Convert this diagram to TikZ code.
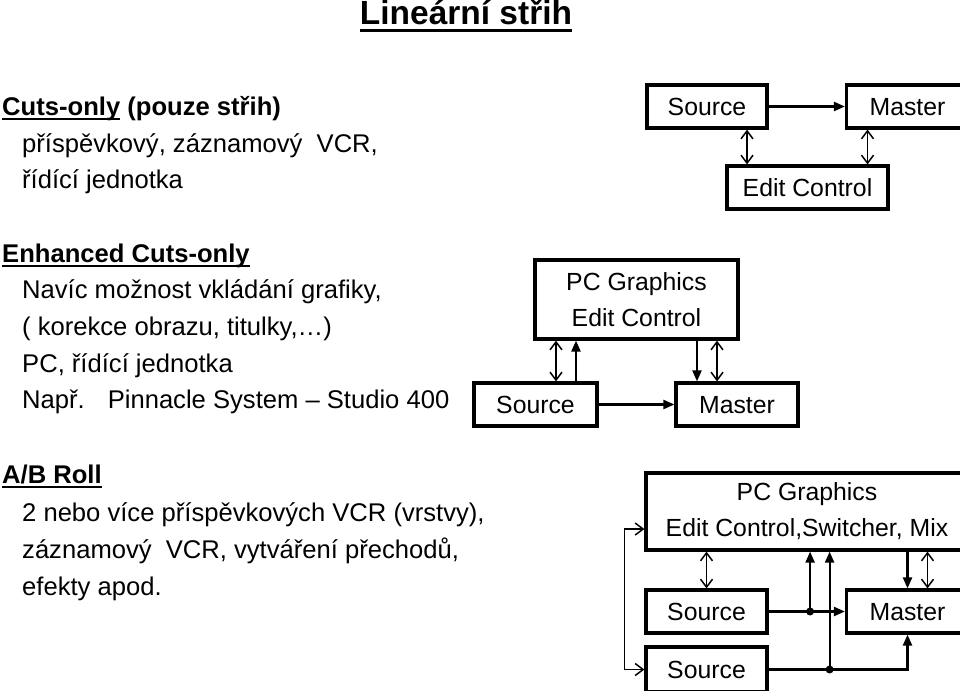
\documentclass[tikz,border=0pt]{standalone}
\usepackage{fontspec}
\setmainfont{Liberation Sans}
\usetikzlibrary{arrows.meta}

\newcommand{\ulin}[1]{\setbox0\hbox{#1}\rlap{\rule[-5pt]{\wd0}{2.4pt}}\box0\relax}

\begin{document}
\begin{tikzpicture}[x=1pt, y=-1pt,
    txt/.style={anchor=base west, inner sep=0pt, font=\fontsize{25.6}{29}\selectfont},
    hd/.style={txt, font=\fontsize{25.6}{29}\selectfont\bfseries},
    box/.style={draw, line width=3.2pt, inner sep=0pt, minimum height=43pt, align=center, font=\fontsize{24.8}{36}\selectfont},
    vcr/.style={box, text height=18pt, text depth=0pt},
    fil/.style={-{Triangle[length=11pt,width=9pt]}, line width=2.2pt},
    dbl/.style={{Straight Barb[length=8pt,width=12pt]}-{Straight Barb[length=8pt,width=12pt]}, line width=1.5pt}]

    \useasboundingbox (0,0) rectangle (960,690);

    % Title
    \node[anchor=base, inner sep=0pt, font=\fontsize{33.5}{40}\selectfont\bfseries] (title) at (466,25)
        {\setbox0\hbox{Lineární střih}\rlap{\rule[-6.7pt]{\wd0}{2.9pt}}\box0\relax};

    % Text on the left
    \node[hd] (h1) at (2,115) {\ulin{Cuts-only} (pouze střih)};
    \node[txt] (t11) at (22,152) {příspěvkový, záznamový\ \ VCR,};
    \node[txt] (t12) at (22,188) {řídící jednotka};

    \node[hd] (h2) at (2,262) {\ulin{Enhanced Cuts-only}};
    \node[txt] (t21) at (22,298) {Navíc možnost vkládání grafiky,};
    \node[txt] (t22) at (22,335) {( korekce obrazu, titulky,…)};
    \node[txt] (t23) at (22,372) {PC, řídící jednotka};
    \node[txt] (t24) at (22,408) {Např.\hspace{23pt}Pinnacle System – Studio 400};

    \node[hd] (h3) at (2,483) {\ulin{A/B Roll}};
    \node[txt] (t31) at (22,521) {2 nebo více příspěvkových VCR (vrstvy),};
    \node[txt] (t32) at (22,558) {záznamový\ \ VCR, vytváření přechodů,};
    \node[txt] (t33) at (22,595) {efekty apod.};

    % Cuts-only
    \node[vcr, minimum width=120] (srcA) at (707,106.5) {Source};
    \node[vcr, minimum width=122] (mstA) at (907.5,106.5) {Master};
    \node[vcr, minimum width=161] (ctlA) at (807.5,187.5) {Edit Control};
    \draw[fil] (srcA.east) -- (mstA.west);
    \draw[dbl] ([xshift=40pt]srcA.south) -- ([xshift=40pt]srcA.south |- ctlA.north);
    \draw[dbl] ([xshift=-40pt]mstA.south) -- ([xshift=-40pt]mstA.south |- ctlA.north);

    % Enhanced cuts-only
    \node[box, minimum width=203, minimum height=79] (pcB) at (636.5,299.5) {PC Graphics\\Edit Control};
    \node[vcr, minimum width=123] (srcB) at (535.5,404.5) {Source};
    \node[vcr, minimum width=122] (mstB) at (737,404.5) {Master};
    \draw[fil] (srcB.east) -- (mstB.west);
    \draw[dbl] ([xshift=20.5pt]srcB.north) -- ([xshift=20.5pt]srcB.north |- pcB.south);
    \draw[fil] ([xshift=40.5pt]srcB.north) -- ([xshift=40.5pt]srcB.north |- pcB.south);
    \draw[fil] ([xshift=-40pt]mstB.north |- pcB.south) -- ([xshift=-40pt]mstB.north);
    \draw[dbl] ([xshift=-20pt]mstB.north) -- ([xshift=-20pt]mstB.north |- pcB.south);

    % A/B roll
    \node[box, minimum width=322, minimum height=77] (pcC) at (807,511.5) {PC Graphics\\Edit Control,Switcher, Mix};
    \node[vcr, minimum width=121] (srcC) at (706.5,611.5) {Source};
    \node[vcr, minimum width=122] (mstC) at (907.5,611.5) {Master};
    \node[vcr, minimum width=121, minimum height=45] (srcD) at (706.5,669.5) {Source};

    \draw[dbl] (srcC.north) -- (srcC.north |- pcC.south);
    \draw[fil] (srcC.east) -- (mstC.west);
    \draw[fil] (srcD.east) -| (mstC.south);
    \coordinate (j1) at ([xshift=41.5pt]srcC.east);
    \coordinate (j2) at ([xshift=61pt]srcD.east);
    \fill (j1) circle (4pt);
    \fill (j2) circle (4pt);
    \draw[fil] (j1) -- (j1 |- pcC.south);
    \draw[fil] (j2) -- (j2 |- pcC.south);
    \draw[fil] (mstC.north |- pcC.south) -- (mstC.north);
    \draw[dbl] ([xshift=20pt]mstC.north) -- ([xshift=20pt]mstC.north |- pcC.south);
    \draw[dbl] ([yshift=-17.5pt]pcC.west) -- ++(-20,0) |- (srcD.west);

\end{tikzpicture}
\end{document}
